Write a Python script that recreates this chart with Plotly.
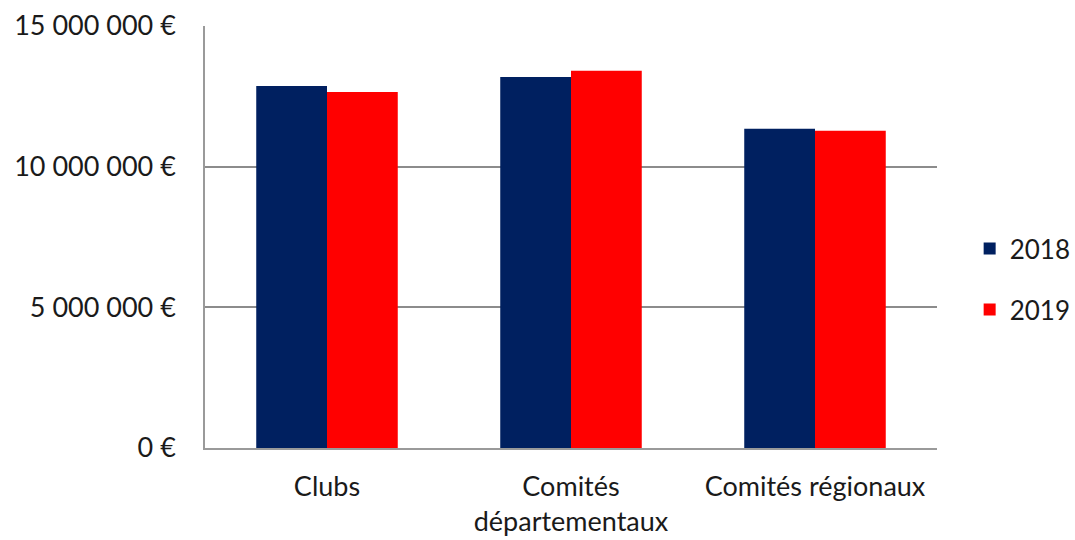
import plotly.graph_objects as go

categories = ["Clubs", "Comités<br>départementaux", "Comités régionaux"]
values_2018 = [12870000, 13190000, 11350000]
values_2019 = [12650000, 13410000, 11280000]
series_names = ["2018", "2019"]
tick_vals = [0, 5000000, 10000000, 15000000]
tick_text = ["0 €", "5 000 000 €", "10 000 000 €", "15 000 000 €"]

font_family = "Lato, 'Open Sans', sans-serif"
text_color = "#1a1a1a"
fs = 27

fig = go.Figure()
fig.add_trace(go.Bar(x=categories, y=values_2018, name=series_names[0],
                     marker=dict(color="#002060", line=dict(width=0)),
                     legendgroup="a"))
fig.add_trace(go.Bar(x=categories, y=values_2019, name=series_names[1],
                     marker=dict(color="#FF0000", line=dict(width=0)),
                     legendgroup="b"))

fig.update_layout(
    width=1075, height=540,
    margin=dict(l=205, r=138, t=26, b=92, autoexpand=False),
    paper_bgcolor="white", plot_bgcolor="white",
    barmode="group", bargap=0.42, bargroupgap=0,
    font=dict(family=font_family, size=fs, color=text_color),
    showlegend=True,
    legend=dict(xref="container", yref="container", x=0.902, y=0.483,
                xanchor="left", yanchor="middle",
                traceorder="grouped", tracegroupgap=24,
                font=dict(size=26, color=text_color),
                itemwidth=30),
    xaxis=dict(showline=True, linecolor="#9a9a9a", linewidth=1.5,
               automargin=False,
               ticks="", ticklabelstandoff=14,
               tickfont=dict(size=27, color=text_color)),
    yaxis=dict(range=[0, 15000000], tickvals=tick_vals, ticktext=tick_text,
               automargin=False,
               showgrid=True, gridcolor="#8c8c8c", gridwidth=1.5,
               showline=True, linecolor="#9a9a9a", linewidth=1.5,
               zeroline=False, ticks="", ticklen=0, ticklabelstandoff=22,
               tickfont=dict(size=fs, color=text_color)),
)

fig.write_html("out.html")
